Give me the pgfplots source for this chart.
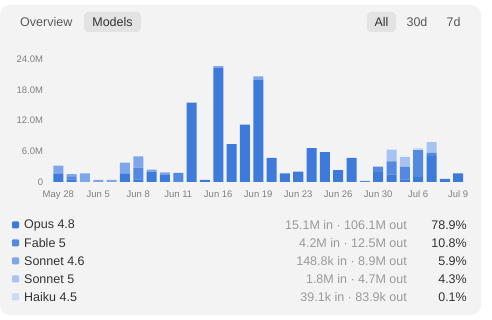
\documentclass[border=0pt]{standalone}
\usepackage{pgfplots}
\pgfplotsset{compat=1.18}
\usepackage{pgfplotstable}
\usepackage{fontspec}
\setmainfont{Liberation Sans}
\definecolor{opus}{HTML}{3D7ADA}
\definecolor{fable}{HTML}{5389E0}
\definecolor{sonA}{HTML}{7EA6EA}
\definecolor{sonB}{HTML}{A7C3F2}
\definecolor{haiku}{HTML}{CADBF7}
\definecolor{card}{HTML}{F3F3F3}
\definecolor{pill}{HTML}{E3E3E3}
\definecolor{tickc}{HTML}{808080}
\definecolor{statc}{HTML}{9A9A9A}
\definecolor{darkt}{HTML}{333333}

\pgfplotstableread{
x opus fable sa sb haiku
0 1.6 0 1.6 0 0
1 0.5 0.5 0.55 0 0
2 0 0 1.7 0 0
3 0 0 0.4 0 0
4 0 0 0.4 0 0
5 1.6 0 2.2 0 0
6 0.5 2.3 2.2 0 0
7 2.0 0 0.4 0 0
8 1.4 0 0.5 0 0
9 0 1.8 0 0 0
10 15.5 0 0 0 0
11 0.4 0 0 0 0
12 22.2 0 0.4 0 0
13 7.4 0 0 0 0
14 11.2 0 0 0 0
15 19.9 0 0.7 0 0
16 4.7 0 0 0 0
17 1.7 0 0 0 0
18 2.0 0 0 0 0
19 6.6 0 0 0 0
20 5.85 0 0 0 0
21 2.3 0 0 0 0
22 4.7 0 0 0 0
23 0 0.2 0 0 0
24 1.95 1.05 0 0 0
25 1.5 2.5 0 2.3 0
26 0.5 2.5 0 1.9 0
27 1.0 5.2 0 0 0.35
28 5.1 0.6 0 2.1 0
29 0.6 0 0 0 0
30 1.7 0 0 0 0
}\usage

\begin{document}
\begin{tikzpicture}[x=1pt,y=1pt]
\path[use as bounding box] (0,0) rectangle (492,320);
\fill[white] (0,0) rectangle (492,320);
\fill[card, rounded corners=10pt] (0,5) rectangle (481,315);
% header
\fill[pill, rounded corners=4pt] (84,288) rectangle (141,308);
\fill[pill, rounded corners=4pt] (367,288) rectangle (396,308);
\begin{scope}[every node/.style={inner sep=0pt, font=\fontsize{12.5}{14}\selectfont}]
\node[anchor=west, text=black!65] at (20,298) {Overview};
\node[text=darkt] at (112.5,298) {Models};
\node[text=darkt] at (381.5,298) {All};
\node[text=black!65] at (417,298) {30d};
\node[text=black!65] at (453.5,298) {7d};
\end{scope}

\begin{axis}[
  at={(51.6pt,138pt)}, anchor=south west,
  scale only axis, width=413.3pt, height=123pt,
  xmin=-0.5, xmax=30.5, ymin=0, ymax=24,
  ybar stacked, bar width=10pt,
  axis line style={draw=none}, major tick length=0pt,
  xtick={0,3,...,30},
  xticklabels={May 28,Jun 5,Jun 8,Jun 11,Jun 16,Jun 19,Jun 23,Jun 26,Jun 30,Jul 6,Jul 9},
  ytick={0,6,12,18,24},
  yticklabels={0,6.0M,12.0M,18.0M,24.0M},
  tick label style={font=\fontsize{9.5}{11}\selectfont, text=tickc},
  yticklabel style={xshift=-5pt},
  xticklabel style={yshift=-5pt},
  /pgf/number format/assume math mode=true,
  every axis plot/.append style={draw=none},
]
\addplot[fill=opus] table[x=x,y=opus]{\usage};
\addplot[fill=fable] table[x=x,y=fable]{\usage};
\addplot[fill=sonA] table[x=x,y=sa]{\usage};
\addplot[fill=sonB] table[x=x,y=sb]{\usage};
\addplot[fill=haiku] table[x=x,y=haiku]{\usage};
\end{axis}

% legend
\begin{scope}[every node/.style={inner sep=0pt, font=\fontsize{12.5}{14}\selectfont}]
\foreach \y/\c/\n/\s/\p in {95/opus/Opus 4.8/15.1M in · 106.1M out/78.9\%,
                          77/fable/Fable 5/4.2M in · 12.5M out/10.8\%,
                          59/sonA/Sonnet 4.6/148.8k in · 8.9M out/5.9\%,
                          41/sonB/Sonnet 5/1.8M in · 4.7M out/4.3\%,
                          23/haiku/Haiku 4.5/39.1k in · 83.9k out/0.1\%}{
  \fill[\c, rounded corners=1pt] (12,\y-3.5) rectangle (19,\y+3.5);
  \node[anchor=west, text=darkt] at (24,\y) {\n};
  \node[anchor=east, text=statc] at (407,\y) {\s};
  \node[anchor=east, text=darkt] at (467,\y) {\p};
}
\end{scope}
\end{tikzpicture}
\end{document}
